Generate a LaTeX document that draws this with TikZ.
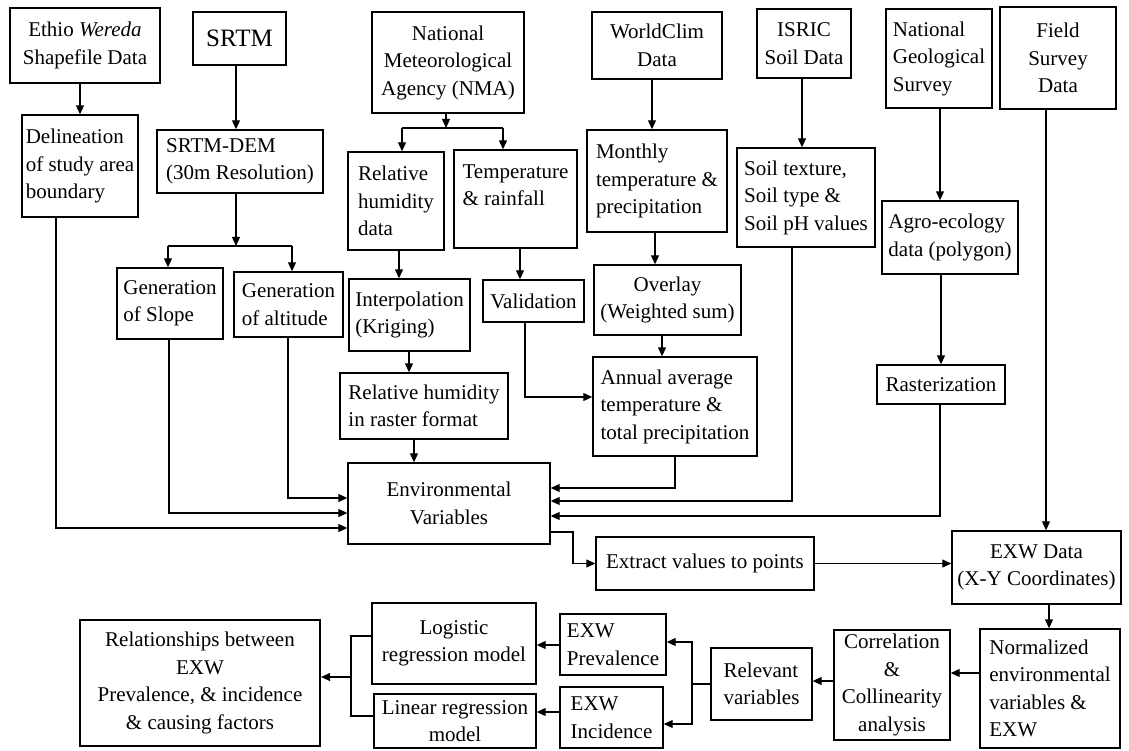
\documentclass[tikz,border=0pt]{standalone}
\usepackage{fontspec}
\setmainfont{Liberation Serif}
\usetikzlibrary{arrows.meta,calc}
\tikzset{
  box/.style={draw, line width=1.4pt, inner sep=1pt, font=\fontsize{21}{27.5}\selectfont},
  arr/.style={draw, line width=1.1pt, -{Triangle[length=9pt,width=8pt]}},
  ln/.style={draw, line width=1.1pt},
}
\newcommand\bx[8][]{%
  \pgfmathsetmacro\bxw{#5-#3}\pgfmathsetmacro\bxh{#6-#4}%
  \pgfmathsetmacro\bxcx{(#3+#5)/2}\pgfmathsetmacro\bxcy{(#4+#6)/2}%
  \node[box,#1,minimum width=\bxw pt,minimum height=\bxh pt,align=#7] (#2) at (\bxcx,\bxcy) {#8};}
\begin{document}
\begin{tikzpicture}[x=1pt,y=-1pt]
\useasboundingbox (0,0) rectangle (1129,751);
% boxes
\bx{ethio}{10}{8}{160}{83}{center}{Ethio \textit{Wereda}\\Shapefile Data}
\bx{srtm}{193}{12}{286}{65}{center}{\fontsize{25}{30}\selectfont SRTM}
\bx{nma}{372}{12}{524}{113}{center}{National\\Meteorological\\Agency (NMA)}
\bx{worldclim}{592}{12}{722}{79}{center}{WorldClim\\Data}
\bx{isric}{757}{9}{851}{78}{center}{ISRIC\\Soil Data}
\bx{ngs}{886}{9}{992}{108}{left}{National\\Geological\\Survey}
\bx{field}{1000}{7}{1116}{109}{center}{Field\\Survey\\Data}
\bx{delin}{22}{115}{138}{217}{left}{Delineation\\of study area\\boundary}
\bx{dem}{157}{130}{323}{193}{left}{SRTM-DEM\\(30m Resolution)}
\bx{rhd}{348}{152}{444}{250}{left}{Relative\\humidity\\data}
\bx{tr}{454}{150}{577}{248}{left}{Temperature\\\& rainfall\\\mbox{}}
\bx{monthly}{587}{130}{727}{232}{left}{Monthly\\temperature \&\\precipitation}
\bx{soil}{737}{148}{875}{247}{left}{Soil texture,\\Soil type \&\\Soil pH values}
\bx{agro}{882}{201}{1018}{274}{left}{Agro-ecology\\data (polygon)}
\bx{slope}{117}{268}{223}{339}{left}{Generation\\of Slope}
\bx{alt}{234}{272}{343}{337}{left}{Generation\\of altitude}
\bx{interp}{349}{279}{470}{351}{left}{Interpolation\\(Kriging)}
\bx{valid}{483}{280}{584}{322}{center}{Validation}
\bx{overlay}{594}{265}{741}{335}{center}{Overlay\\(Weighted sum)}
\bx{annual}{593}{357}{757}{456}{left}{Annual average\\temperature \&\\total precipitation}
\bx{raster}{877}{365}{1005}{404}{center}{Rasterization}
\bx{rhr}{340}{373}{508}{439}{left}{Relative humidity\\in raster format}
\bx{env}{348}{463}{550}{544}{center}{Environmental\\Variables}
\bx{extract}{596}{537}{814}{590}{center}{Extract values to points}
\bx{exwd}{952}{531}{1121}{604}{center}{EXW Data\\(X-Y Coordinates)}
\bx{norm}{980}{629}{1120}{748}{left}{Normalized\\environmental\\variables \&\\EXW}
\bx{corr}{834}{630}{950}{740}{center}{Correlation\\\&\\Collinearity\\analysis}
\bx{relv}{711}{648}{812}{720}{left}{Relevant\\variables}
\bx{prev}{560}{614}{666}{675}{left}{EXW\\Prevalence}
\bx{inc}{560}{687}{663}{748}{left}{EXW\\Incidence}
\bx{logit}{372}{603}{536}{684}{center}{Logistic\\regression model}
\bx{linear}{374}{694}{536}{748}{center}{Linear regression\\model}
\bx[line width=2.2pt]{rel}{80}{620}{320}{746}{center}{Relationships between\\EXW\\Prevalence, \& incidence\\\& causing factors}
% connectors top
\draw[arr] (ethio.south -| 80,0) -- (delin.north -| 80,0);
\draw[arr] (srtm.south -| 236,0) -- (dem.north -| 236,0);
\coordinate (db) at (236,246);
\coordinate (dbl) at (168,246);
\coordinate (dbr) at (292,246);
\draw[arr] (dem.south -| db) -- (db);
\draw[ln] (dbl) -- (dbr);
\draw[arr] (dbl) -- (slope.north -| dbl);
\draw[arr] (dbr) -- (alt.north -| dbr);
\coordinate (nb) at (446,128);
\coordinate (nbl) at (402,128);
\coordinate (nbr) at (503,128);
\draw[arr] (nma.south -| nb) -- (nb);
\draw[ln] (nbl) -- (nbr);
\draw[arr] (nbl) -- (rhd.north -| nbl);
\draw[arr] (nbr) -- (tr.north -| nbr);
\draw[arr] (worldclim.south -| 652,0) -- (monthly.north -| 652,0);
\draw[arr] (isric.south -| 802,0) -- (soil.north -| 802,0);
\draw[arr] (ngs.south -| 940,0) -- (agro.north -| 940,0);
\draw[arr] (monthly.south -| 655,0) -- (overlay.north -| 655,0);
\draw[arr] (overlay.south -| 662,0) -- (annual.north -| 662,0);
\draw[arr] (rhd.south -| 399,0) -- (interp.north -| 399,0);
\draw[arr] (tr.south -| 520,0) -- (valid.north -| 520,0);
\draw[arr] (interp.south -| 409,0) -- (rhr.north -| 409,0);
\draw[arr] (rhr.south -| 414,0) -- (env.north -| 414,0);
\draw[arr] (valid.south -| 525,0) |- (annual.west |- 0,397);
\draw[arr] (agro.south -| 941,0) -- (raster.north -| 941,0);
% into environmental variables
\draw[arr] (delin.south -| 56,0) |- (env.west |- 0,528);
\draw[arr] (slope.south -| 169,0) |- (env.west |- 0,513);
\draw[arr] (alt.south -| 288,0) |- (env.west |- 0,498);
\draw[arr] (annual.south -| 675,0) |- (env.east |- 0,488);
\draw[arr] (soil.south -| 792,0) |- (env.east |- 0,501);
\draw[arr] (raster.south -| 940,0) |- (env.east |- 0,516);
% extraction
\coordinate (ej) at (573,532);
\draw[arr] (env.east |- ej) -- (ej) |- (extract.west);
\draw[arr] (extract.east) -- (exwd.west |- extract.east);
\draw[arr] (field.south -| 1046,0) -- (exwd.north -| 1046,0);
\draw[arr] (exwd.south -| 1049,0) -- (norm.north -| 1049,0);
\draw[arr] (norm.west |- 0,673) -- (corr.east |- 0,673);
\draw[arr] (corr.west |- 0,681) -- (relv.east |- 0,681);
\coordinate (rj) at (692,684);
\draw[ln] (relv.west |- rj) -- (rj);
\draw[arr] (rj) |- (prev.east |- 0,642);
\draw[arr] (rj) |- (inc.east |- 0,724);
\draw[arr] (prev.west |- 0,645) -- (logit.east |- 0,645);
\draw[arr] (inc.west |- 0,712) -- (linear.east |- 0,712);
\coordinate (lj) at (351,677);
\draw[ln] (logit.west |- 0,636) -| (lj);
\draw[ln] (linear.west |- 0,716) -| (lj);
\draw[arr] (lj) -- (rel.east |- lj);
\end{tikzpicture}
\end{document}
